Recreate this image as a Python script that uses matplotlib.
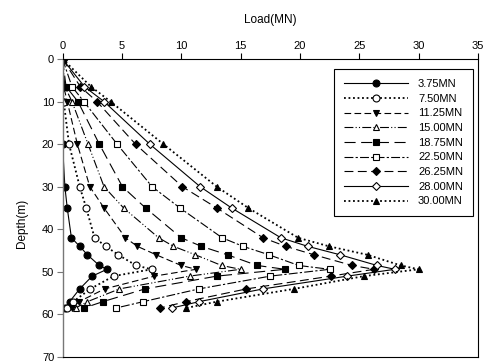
import numpy as np
import matplotlib
matplotlib.use("Agg")
import matplotlib.pyplot as plt

plt.rcParams['font.family'] = ['Liberation Sans', 'DejaVu Sans']

# depth of the measuring points (m)
depth = [0, 6.5, 10, 20, 30, 35, 42, 44, 46, 48.5, 49.4, 51, 54, 57, 58.5]

labels = ['3.75MN', '7.50MN', '11.25MN', '15.00MN', '18.75MN',
          '22.50MN', '26.25MN', '28.00MN', '30.00MN']

# axial load (MN) at each depth, one list per load step
load_375 = [0, 0, 0, 0, 0.2, 0.4, 0.75, 1.45, 2.1, 3.1, 3.75, 2.5, 1.45, 0.6, 0.2]
load_750 = [0, 0, 0.1, 0.55, 1.45, 2.0, 2.7, 3.65, 4.7, 6.2, 7.5, 4.3, 2.35, 0.9, 0.4]
load_1125 = [0, 0.1, 0.4, 1.25, 2.3, 3.5, 5.3, 6.3, 7.9, 10.0, 11.25, 7.75, 3.55, 1.4, 0.8]
load_1500 = [0, 0.2, 0.8, 2.15, 3.5, 5.15, 8.1, 9.35, 11.2, 13.4, 15.0, 10.7, 4.8, 2.1, 1.1]
load_1875 = [0, 0.3, 1.3, 3.1, 5.05, 7.0, 10.0, 11.7, 13.9, 16.4, 18.75, 13.0, 6.95, 3.4, 1.8]
load_2250 = [0, 0.8, 1.8, 4.6, 7.55, 9.9, 13.45, 15.2, 17.4, 19.9, 22.5, 17.5, 11.5, 6.8, 4.5]
load_2625 = [0, 1.5, 2.9, 6.15, 10.1, 13.0, 16.9, 18.8, 21.2, 24.4, 26.25, 22.6, 15.5, 10.4, 8.2]
load_2800 = [0, 1.85, 3.5, 7.35, 11.6, 14.25, 18.4, 20.65, 23.4, 26.5, 28.0, 24.0, 16.9, 11.5, 9.2]
load_3000 = [0, 2.4, 4.05, 8.5, 13.0, 15.65, 19.85, 22.45, 25.7, 28.5, 30.0, 25.4, 19.5, 13.0, 10.4]

series = [load_375, load_750, load_1125, load_1500, load_1875,
          load_2250, load_2625, load_2800, load_3000]

# (linestyle, marker, filled)
styles = [
    ('-', 'o', True),
    ((0, (1, 1.5)), 'o', False),
    ((0, (6, 3)), 'v', True),
    ((0, (8, 2, 1, 2, 1, 2)), '^', False),
    ((0, (10, 5)), 's', True),
    ((0, (8, 2, 2, 2)), 's', False),
    ((0, (8, 4)), 'D', True),
    ('-', 'D', False),
    ((0, (1, 1.5)), '^', True),
]

fig = plt.figure(figsize=(4.83, 3.63), dpi=100)
ax = fig.add_axes([0.1294, 0.0165, 0.8602, 0.821])

for vals, lab, (ls, mk, filled) in zip(series, labels, styles):
    lw = 1.3 if ls == (0, (1, 1.5)) else 0.8
    ms = 4.5 if mk == 'D' else 5
    ax.plot(vals, depth, linestyle=ls, color='black', linewidth=lw,
            marker=mk, markersize=ms, markeredgewidth=0.8,
            markerfacecolor='black' if filled else 'white',
            markeredgecolor='black', label=lab)

ax.set_xlim(0, 35)
ax.set_ylim(70, 0)
ax.set_xticks(np.arange(0, 36, 5))
ax.set_yticks(np.arange(0, 71, 10))
ax.xaxis.tick_top()
ax.xaxis.set_label_position('top')
ax.tick_params(axis='both', direction='out', length=4, width=0.8,
               labelsize=8, pad=2)
ax.tick_params(axis='x', top=True, bottom=False)
ax.tick_params(axis='y', left=True, right=False, color='#777777')

ax.spines['left'].set_color('#777777')
ax.spines['left'].set_linewidth(1.0)
for s in ['top', 'right', 'bottom']:
    ax.spines[s].set_color('black')
    ax.spines[s].set_linewidth(0.8)

ax.set_xlabel('Load(MN)', fontsize=8.5, labelpad=13)
ax.set_ylabel('Depth(m)', fontsize=8.5)
ax.yaxis.set_label_coords(-0.083, 0.45)

leg = ax.legend(loc='upper right', bbox_to_anchor=(0.988, 0.966),
                borderaxespad=0, fontsize=8, handlelength=5.8,
                numpoints=1, labelspacing=0.42, fancybox=False,
                framealpha=1, edgecolor='black', borderpad=0.9,
                handletextpad=0.9)
leg.get_frame().set_linewidth(0.8)

fig.savefig('out.png', dpi=100)
